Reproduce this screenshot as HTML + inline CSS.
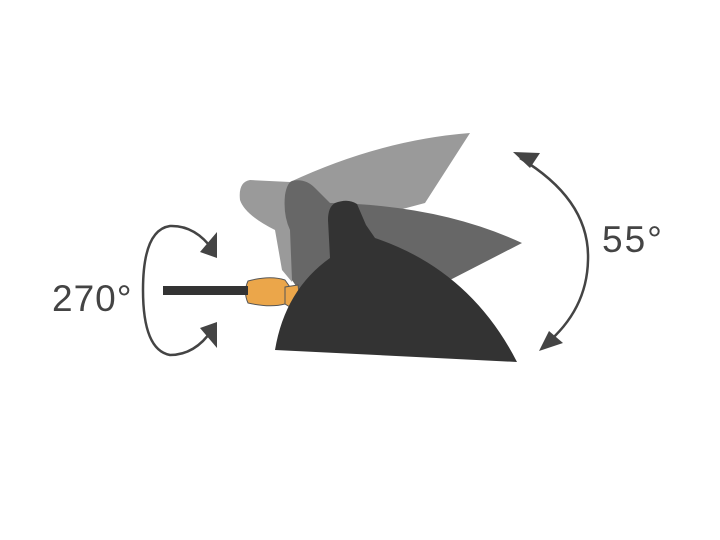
<!DOCTYPE html>
<html><head><style>body{margin:0;background:#fff}svg{display:block}</style></head><body>
<svg width="720" height="540" viewBox="0 0 720 540" xmlns="http://www.w3.org/2000/svg">
<!-- light lamp -->
<path d="M250,180 L290,182 Q380,140 470,133 L425,203 L380,215 L300,245 L292,282 L282,270 L275,230 Q245,215 240,200 Q238,182 250,180 Z" fill="#9a9a9a"/>
<!-- medium lamp -->
<path d="M292,181 Q305,178 315,188 L330,203 Q440,205 522,243 L450,280 L400,290 L300,292 L292,280 L290,230 Q283,215 285,195 Q287,183 292,181 Z" fill="#676767"/>
<!-- orange connector -->
<path d="M248,281 Q270,275 285,280 L292,290 L285,304 Q270,308 248,303 Q243,292 248,281 Z" fill="#eba64a" stroke="#555" stroke-width="1"/>
<path d="M285,287 L298,285 L300,300 L290,307 L285,304 Z" fill="#eba64a" stroke="#555" stroke-width="1"/>
<rect x="163" y="286" width="85" height="9" fill="#333"/>
<!-- dark lamp -->
<path d="M335,203 Q348,198 357,204 L366,225 L375,238 Q470,270 517,362 L275,350 Q285,290 330,258 L328,220 Q328,207 335,203 Z" fill="#333"/>
<!-- 270 loop -->
<path d="M213,250 Q195,225 170,226 Q143,230 143,290 Q143,350 170,355 Q195,355 212,330" fill="none" stroke="#444" stroke-width="2.5"/>
<polygon points="217,232 217,258 200,252" fill="#444"/>
<polygon points="217,322 217,348 200,328" fill="#444"/>
<!-- 55 arc -->
<path d="M520,158 Q590,200 588,260 Q587,310 545,345" fill="none" stroke="#444" stroke-width="2.5"/>
<polygon points="513,152 540,153 530,168" fill="#444"/>
<polygon points="539,351 549,331 563,343" fill="#444"/>
<text x="52" y="311" font-family="Liberation Sans, sans-serif" font-size="37" letter-spacing="1" fill="#444">270°</text>
<text x="602" y="252" font-family="Liberation Sans, sans-serif" font-size="37" letter-spacing="2" fill="#444">55°</text>
</svg>
</body></html>
